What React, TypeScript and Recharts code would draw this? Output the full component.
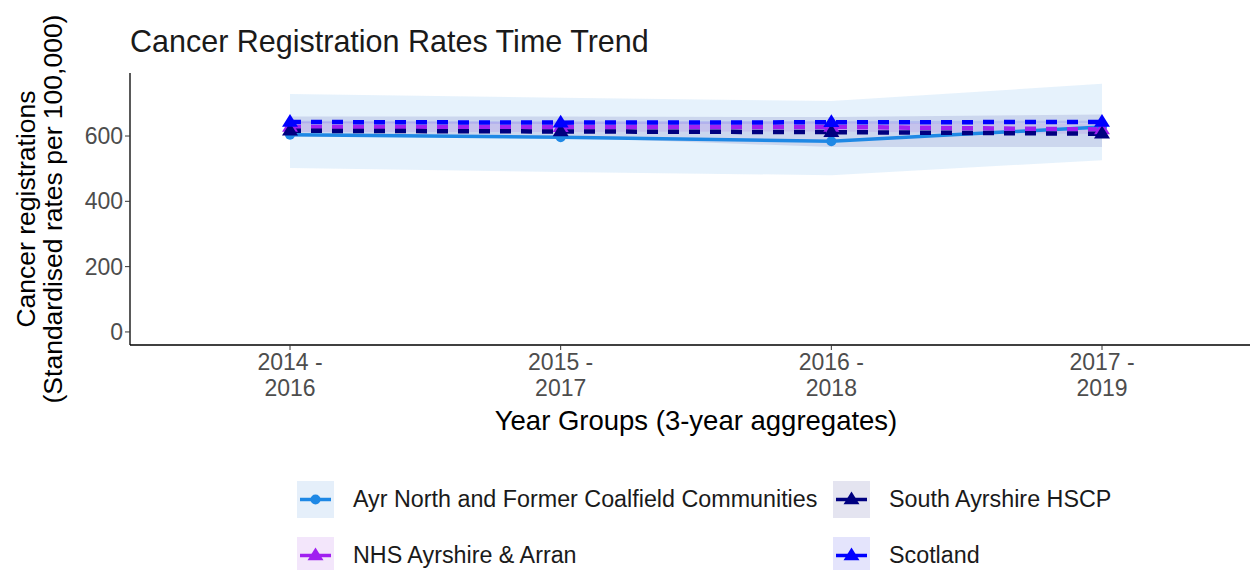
import React from "react"
import { ComposedChart, Area, Line, XAxis, YAxis } from "recharts"

// categories on x axis (3-year aggregates)
const categories = ["2014 -\n2016", "2015 -\n2017", "2016 -\n2018", "2017 -\n2019"]

// rates per 100,000 with confidence limits
const ayrNorth = [604, 596, 584, 628]
const ayrNorthLower = [502, 490, 480, 526]
const ayrNorthUpper = [729, 717, 707, 760]

const nhsAyrshire = [628, 627, 628, 620]
const nhsAyrshireLower = [612, 612, 614, 606]
const nhsAyrshireUpper = [644, 642, 642, 636]

const southAyrshire = [616, 614, 612, 607]
const southAyrshireLower = [598, 596, 566, 566]
const southAyrshireUpper = [660, 660, 658, 666]

const scotland = [643, 641, 642, 643]
const scotlandLower = [639, 637, 638, 639]
const scotlandUpper = [647, 645, 646, 647]

const yTicks = [0, 200, 400, 600]

const data = categories.map((cat, i) => ({
  cat,
  ayr: ayrNorth[i],
  ayrBand: [ayrNorthLower[i], ayrNorthUpper[i]],
  nhs: nhsAyrshire[i],
  nhsBand: [nhsAyrshireLower[i], nhsAyrshireUpper[i]],
  sa: southAyrshire[i],
  saBand: [southAyrshireLower[i], southAyrshireUpper[i]],
  scot: scotland[i],
  scotBand: [scotlandLower[i], scotlandUpper[i]],
}))

const FONT = '"Liberation Sans", Arial, sans-serif'

const COLORS = {
  ayr: "#1E88E5",
  nhs: "#A020F0",
  sa: "#000080",
  scot: "#0000FF",
}

const legendItems = [
  { label: "Ayr North and Former Coalfield Communities", color: COLORS.ayr, bg: "#e5effa", shape: "circle", left: 297, top: 481 },
  { label: "South Ayrshire HSCP", color: COLORS.sa, bg: "#e4e4f0", shape: "triangle", left: 833, top: 481 },
  { label: "NHS Ayrshire & Arran", color: COLORS.nhs, bg: "#f3e6fb", shape: "triangle", left: 297, top: 537 },
  { label: "Scotland", color: COLORS.scot, bg: "#e4e4fc", shape: "triangle", left: 833, top: 537 },
]

const Triangle = (props: any) => {
  const { cx, cy, fill } = props
  if (cx == null || cy == null) return null
  const s = 8
  return <polygon points={`${cx},${cy - s} ${cx - s},${cy + s * 0.6} ${cx + s},${cy + s * 0.6}`} fill={fill} />
}

const makeTriangle = (color: string) => (props: any) => <Triangle key={props.index} {...props} fill={color} />

const XTick = (props: any) => {
  const { x, y, payload } = props
  const lines = String(payload.value).split("\n")
  return (
    <g transform={`translate(${x},${y})`}>
      {lines.map((l, i) => (
        <text key={i} x={0} y={18 + i * 26} textAnchor="middle" fill="#4d4d4d" fontSize={23} fontFamily={FONT}>
          {l}
        </text>
      ))}
    </g>
  )
}

function LegendKey({ color, bg, shape }: { color: string; bg: string; shape: string }) {
  return (
    <svg width={37} height={37} style={{ display: "block" }}>
      <rect x={0} y={0} width={37} height={37} fill={bg} />
      <line x1={3} x2={34} y1={18.5} y2={18.5} stroke={color} strokeWidth={3.5} />
      {shape === "circle" ? (
        <circle cx={18.5} cy={18.5} r={5} fill={color} />
      ) : (
        <polygon points="18.5,10.5 10.5,23.3 26.5,23.3" fill={color} />
      )}
    </svg>
  )
}

export default function App() {
  return (
    <div style={{ position: "absolute", left: 0, top: 0, width: 1250, height: 570, overflow: "hidden", background: "#fff", fontFamily: FONT }}>
      <ComposedChart width={1275} height={570} data={data} margin={{ top: 73, right: 13, left: 70, bottom: 165 }}>
        <XAxis
          dataKey="cat"
          scale="point"
          padding={{ left: 160, right: 160 }}
          height={60}
          tick={<XTick />}
          tickSize={5}
          axisLine={{ stroke: "#000", strokeWidth: 1.3 }}
          tickLine={{ stroke: "#333" }}
          interval={0}
        />
        <YAxis
          width={60}
          domain={[-40, 793]}
          ticks={yTicks}
          type="number"
          allowDataOverflow
          tickSize={5}
          tick={{ fill: "#4d4d4d", fontSize: 23, fontFamily: FONT }}
          axisLine={{ stroke: "#000", strokeWidth: 1.3 }}
          tickLine={{ stroke: "#333" }}
        />
        <Area dataKey="ayrBand" stroke="none" fill={COLORS.ayr} fillOpacity={0.11} isAnimationActive={false} />
        <Area dataKey="nhsBand" stroke="none" fill={COLORS.nhs} fillOpacity={0.11} isAnimationActive={false} />
        <Area dataKey="saBand" stroke="none" fill={COLORS.sa} fillOpacity={0.11} isAnimationActive={false} />
        <Area dataKey="scotBand" stroke="none" fill={COLORS.scot} fillOpacity={0.11} isAnimationActive={false} />
        <Line
          dataKey="ayr"
          stroke={COLORS.ayr}
          strokeWidth={3.5}
          dot={{ r: 5, fill: COLORS.ayr, stroke: "none" }}
          isAnimationActive={false}
        />
        <Line
          dataKey="nhs"
          stroke={COLORS.nhs}
          strokeWidth={4.5}
          strokeDasharray="11 10"
          dot={makeTriangle(COLORS.nhs)}
          isAnimationActive={false}
        />
        <Line
          dataKey="sa"
          stroke={COLORS.sa}
          strokeWidth={4.5}
          strokeDasharray="11 10"
          dot={makeTriangle(COLORS.sa)}
          isAnimationActive={false}
        />
        <Line
          dataKey="scot"
          stroke={COLORS.scot}
          strokeWidth={4.5}
          strokeDasharray="11 10"
          dot={makeTriangle(COLORS.scot)}
          isAnimationActive={false}
        />
      </ComposedChart>

      {/* title */}
      <div style={{ position: "absolute", left: 130, top: 23, fontSize: 30.5, color: "#1a1a1a", whiteSpace: "nowrap", lineHeight: "36px" }}>
        Cancer Registration Rates Time Trend
      </div>

      {/* y axis title */}
      <div
        style={{
          position: "absolute",
          left: 40,
          top: 209,
          width: 0,
          height: 0,
        }}
      >
        <div
          style={{
            position: "absolute",
            transform: "translate(-50%, -50%) rotate(-90deg)",
            whiteSpace: "nowrap",
            textAlign: "center",
            fontSize: 26.5,
            lineHeight: "27px",
            color: "#000",
          }}
        >
          Cancer registrations
          <br />
          (Standardised rates per 100,000)
        </div>
      </div>

      {/* x axis title */}
      <div style={{ position: "absolute", left: 696, top: 404, transform: "translateX(-50%)", fontSize: 27.5, lineHeight: "34px", whiteSpace: "nowrap", color: "#000" }}>
        Year Groups (3-year aggregates)
      </div>

      {/* legend */}
      {legendItems.map((it) => (
        <div key={it.label} style={{ position: "absolute", left: it.left, top: it.top, display: "flex", alignItems: "center" }}>
          <LegendKey color={it.color} bg={it.bg} shape={it.shape} />
          <span style={{ marginLeft: 19, fontSize: 23.3, color: "#1a1a1a", whiteSpace: "nowrap" }}>{it.label}</span>
        </div>
      ))}
    </div>
  )
}
